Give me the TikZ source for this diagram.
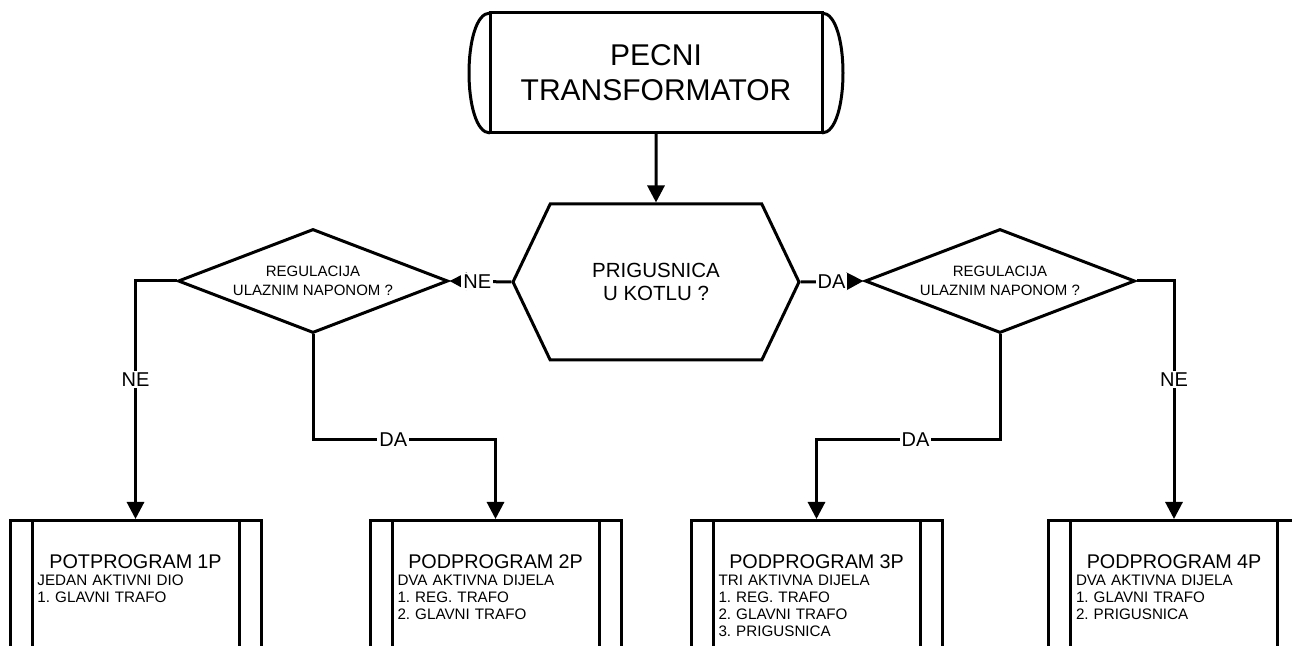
\documentclass[tikz,border=0pt]{standalone}
\usepackage{fontspec}
\setmainfont{Liberation Sans}
\usetikzlibrary{positioning,shapes.geometric,shapes.symbols,arrows.meta}

\def\sidebar{11pt}

\begin{document}
\frenchspacing
\begin{tikzpicture}[x=0.5pt, y=-0.5pt, line width=1.5pt, >={Triangle[width=8.5pt,length=8.5pt]}]
    \tikzstyle{flow}=[->]
    \tikzstyle{terminal}=[draw, rectangle, outer sep=0pt, minimum width=166pt, minimum height=60pt, align=center, font=\fontsize{15}{17.5}\selectfont]
    \tikzstyle{prep}=[draw, signal, signal to=east and west, signal pointer angle=129, minimum width=143pt, minimum height=78pt, inner sep=0pt, align=center, font=\fontsize{10.25}{11.75}\selectfont]
    \tikzstyle{decision}=[draw, diamond, aspect=2.6, minimum width=135pt, minimum height=52pt, inner sep=0pt, align=center, font=\fontsize{7.5}{9.5}\selectfont]
    \tikzstyle{progbox}=[draw, rectangle, anchor=north, minimum width=125.5pt, minimum height=100pt,
        path picture={
            \draw[line width=1.5pt] ([xshift=\sidebar]path picture bounding box.north west) -- ([xshift=\sidebar]path picture bounding box.south west);
            \draw[line width=1.5pt] ([xshift=-\sidebar]path picture bounding box.north east) -- ([xshift=-\sidebar]path picture bounding box.south east);
        }]
    \tikzstyle{progtext}=[text width=98pt, inner sep=0pt, align=left, font=\fontsize{7.6}{8.5}\selectfont]
    \tikzstyle{lbl}=[fill=white, inner sep=1pt, font=\fontsize{10}{12}\selectfont]

    \useasboundingbox (0,0) rectangle (1292,646);
    \clip (0,0) rectangle (1292,646);

    % Start block
    \node[terminal] (pecni) at (656,73) {PECNI\\TRANSFORMATOR};
    \draw (pecni.north west) .. controls +(-14pt,0) and +(-14pt,0) .. (pecni.south west);
    \draw (pecni.north east) .. controls +(14pt,0) and +(14pt,0) .. (pecni.south east);

    % Questions
    \node[prep] (kotao) at (656,282) {PRIGUSNICA\\U KOTLU ?};
    \node[decision] (regL) at (313,281) {REGULACIJA\\ULAZNIM NAPONOM ?};
    \node[decision] (regR) at (1000,281) {REGULACIJA\\ULAZNIM NAPONOM ?};

    % Draw the subprogram boxes
    \foreach \name / \x / \head / \body in {
        1/135.5/{POTPROGRAM 1P}/{JEDAN AKTIVNI DIO\\1. GLAVNI TRAFO},
        2/495.5/{PODPROGRAM 2P}/{DVA AKTIVNA DIJELA\\1. REG. TRAFO\\2. GLAVNI TRAFO},
        3/816.5/{PODPROGRAM 3P}/{TRI AKTIVNA DIJELA\\1. REG. TRAFO\\2. GLAVNI TRAFO\\3. PRIGUSNICA},
        4/1174/{PODPROGRAM 4P}/{DVA AKTIVNA DIJELA\\1. GLAVNI TRAFO\\2. PRIGUSNICA}}
    {
        \node[progbox] (P\name) at (\x,519) {};
        \node[progtext, below=17pt of P\name.north] (T\name) {{\fontsize{9.9}{11}\selectfont\centering \head\par}\body};
    }

    % Connect the blocks
    \draw[flow] (pecni) -- (kotao);
    \draw[flow] (kotao.west) -- node[lbl, pos=0.55] {NE} (regL.east);
    \draw[flow] (kotao.east) -- node[lbl, pos=0.49] {DA} (regR.west);

    \draw[flow] (regL.west) -| node[lbl, pos=0.707] {NE} (P1.north);
    \draw[flow] (regL.south) -- ++(0,105) -| node[lbl, pos=0.22] {DA} (P2.north);
    \draw[flow] (regR.south) -- ++(0,105) -| node[lbl, pos=0.23] {DA} (P3.north);
    \draw[flow] (regR.east) -| node[lbl, pos=0.707] {NE} (P4.north);
\end{tikzpicture}
\end{document}
